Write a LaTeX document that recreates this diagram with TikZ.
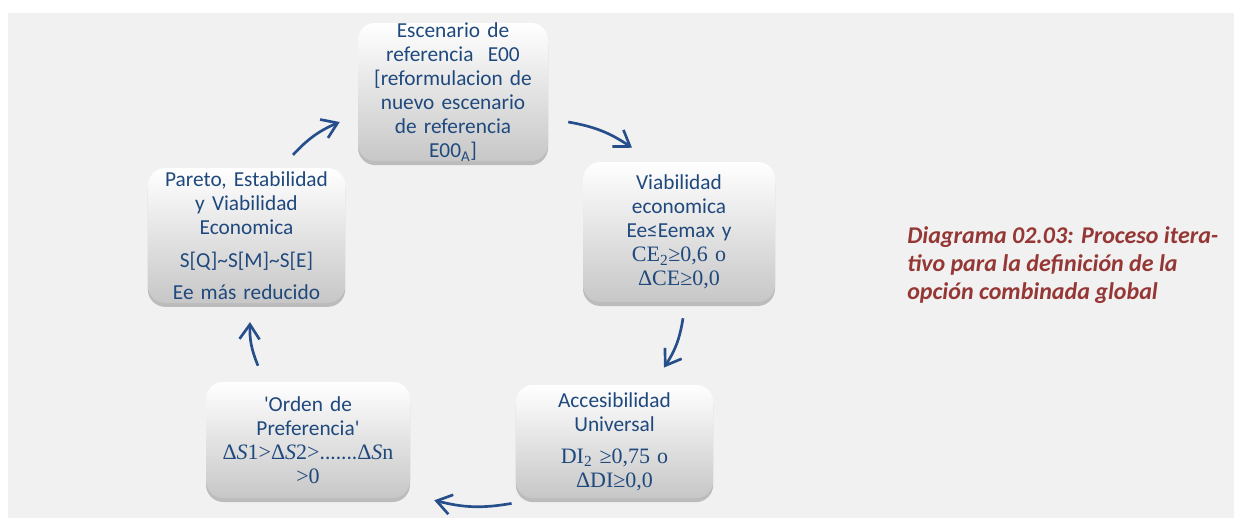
\documentclass[tikz,border=0pt]{standalone}
\usepackage{fontspec}
\setmainfont{Carlito}
\newfontfamily\cambria{Liberation Serif}
\usepackage{xcolor}
\usetikzlibrary{arrows.meta,shadows}

\definecolor{txtblue}{RGB}{31,73,125}
\definecolor{arrblue}{RGB}{38,78,138}
\definecolor{capred}{RGB}{149,55,53}
\definecolor{backgray}{RGB}{241,241,241}

% serif (formula) lines inside the boxes
\newcommand{\formula}[1]{{\cambria\fontsize{16.5}{18}\selectfont #1}}

\begin{document}
\begin{tikzpicture}[x=0.75pt,y=-0.75pt,
	stepbox/.style={rounded corners=13pt, top color=white, bottom color=black!22,
		drop shadow={shadow xshift=0pt, shadow yshift=-3pt, opacity=0.22, fill=black},
		inner sep=0pt, align=center, text=txtblue, font=\fontsize{16}{18}\selectfont},
	cycarrow/.style={draw=arrblue, line width=2pt, -{Straight Barb[length=11pt,width=15pt,line width=2pt]}, bend left=12}]
	
	% canvas and grey panel
	\useasboundingbox (0,0) rectangle (1234,518);
	\fill[white] (0,0) rectangle (1234,518);
	\fill[backgray] (8,13) rectangle (1234,518);
	
	% the five steps of the cycle, placed at their centres
	\node[stepbox, minimum width=142.5pt, minimum height=97pt, text width=140pt] (E00) at (453,92)
		{Escenario de\\referencia\ \ E00\\{}[reformulacion de\\nuevo escenario\\de referencia\\E00\textsubscript{A}]};
	
	\node[stepbox, minimum width=144pt, minimum height=105pt, text width=140pt] (Viab) at (679,232)
		{Viabilidad\\economica\\Ee≤Eemax y\\\formula{CE\textsubscript{2}≥0,6 o}\\\formula{ΔCE≥0,0}};
	
	\node[stepbox, minimum width=148pt, minimum height=85pt, text width=145pt] (Acc) at (614.5,441.5)
		{Accesibilidad\\Universal\\[6pt]\formula{DI\textsubscript{2} ≥0,75 o}\\\formula{ΔDI≥0,0}};
	
	\node[stepbox, minimum width=153pt, minimum height=87pt, text width=150pt] (Ord) at (308,440)
		{\textquotesingle Orden de\\Preferencia\textquotesingle\\\formula{Δ\textit{S}1>Δ\textit{S}2>}.......\formula{Δ\textit{S}n}\\\formula{>0}};
	
	\node[stepbox, minimum width=148pt, minimum height=101pt, text width=145pt] (Par) at (246.5,235.5)
		{Pareto, Estabilidad\\y Viabilidad\\Economica\\[7pt]S[Q]\textasciitilde S[M]\textasciitilde S[E]\\[6pt]Ee más reducido};
	
	% arrows round the cycle (clockwise)
	\draw[cycarrow] ([shift={(20,30)}]E00.east) to ([shift={(-47,-14)}]Viab.north);
	\draw[cycarrow] ([shift={(4,16)}]Viab.south) to ([shift={(49.5,-17)}]Acc.north);
	\draw[cycarrow] ([shift={(-4,5)}]Acc.south west) to ([shift={(24,2)}]Ord.south east);
	\draw[cycarrow] ([shift={(-50,-16)}]Ord.north) to ([shift={(3.5,19)}]Par.south);
	\draw[cycarrow] ([shift={(46.5,-13)}]Par.north) to ([shift={(-18,30)}]E00.west);
	
	% caption
	\node[anchor=north west, align=left, text=capred, inner sep=0pt,
		font=\fontsize{18}{21}\selectfont\bfseries\itshape] (Cap) at (907,226)
		{Diagrama 02.03: Proceso itera-\\tivo para la definición de la\\opción combinada global};
\end{tikzpicture}
\end{document}
